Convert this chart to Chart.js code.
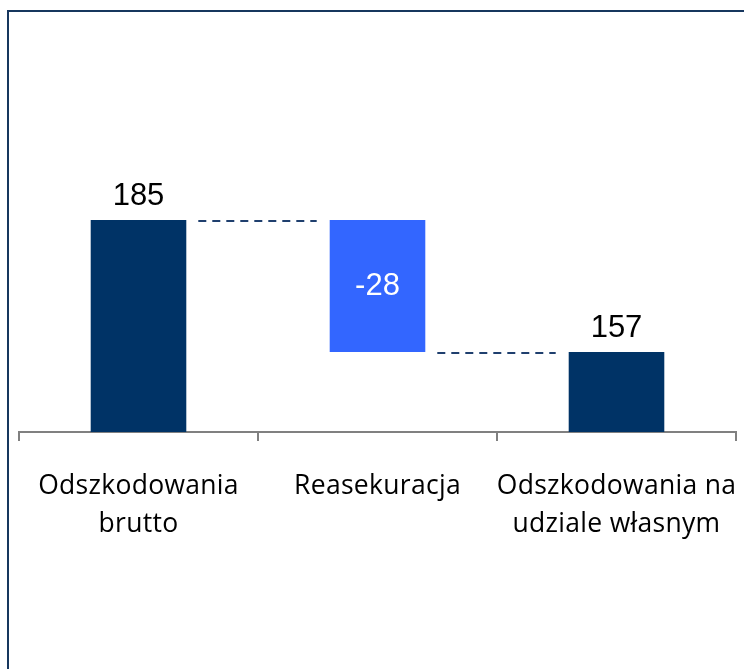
<!DOCTYPE html>
<html lang="pl">
<head>
    <meta charset="UTF-8">
    <title>Odszkodowania</title>
    <script src="https://cdn.jsdelivr.net/npm/chart.js"></script>
    <style>
        body { margin: 0; background: #fff; overflow: hidden; }
        canvas { display: block; }
    </style>
</head>
<body>
<canvas id="chart" width="744" height="669"></canvas>
<script>
// dane
const categories = [['Odszkodowania', 'brutto'], 'Reasekuracja', ['Odszkodowania na', 'udziale własnym']];
const values = [185, -28, 157];
const kinds = ['total', 'delta', 'total'];
const axisMin = 140;
const axisMax = 230;

// zakresy słupków (waterfall)
let running = 0;
const ranges = values.map((v, i) => {
    if (kinds[i] === 'total') { running = v; return [axisMin, v]; }
    const from = running;
    running += v;
    return [Math.min(from, running), Math.max(from, running)];
});
const colors = kinds.map(k => k === 'total' ? '#003366' : '#3366ff');

// ramka + lekko rozstrzelone litery etykiet osi
const frame = {
    id: 'frame',
    beforeDraw(chart) {
        const ctx = chart.ctx;
        ctx.save();
        ctx.strokeStyle = '#17375e';
        ctx.lineWidth = 2;
        ctx.beginPath();
        ctx.moveTo(8, chart.height);
        ctx.lineTo(8, 11);
        ctx.lineTo(chart.width, 11);
        ctx.stroke();
        ctx.restore();
        ctx.letterSpacing = '0.3px';
    }
};

// etykiety wartości i linie łączące
const waterfallExtras = {
    id: 'waterfallExtras',
    afterDatasetsDraw(chart) {
        const ctx = chart.ctx;
        const bars = chart.getDatasetMeta(0).data;
        const y = chart.scales.y;
        ctx.save();
        ctx.letterSpacing = '0px';
        // linie przerywane
        ctx.strokeStyle = '#1f3f6e';
        ctx.lineWidth = 2;
        ctx.setLineDash([8, 6]);
        let level = 0;
        values.forEach((v, i) => {
            level = kinds[i] === 'total' ? v : level + v;
            if (i < bars.length - 1) {
                const a = bars[i], b = bars[i + 1];
                const py = Math.round(y.getPixelForValue(level)) + 1;
                ctx.beginPath();
                ctx.moveTo(a.x + a.width / 2 + 12, py);
                ctx.lineTo(b.x - b.width / 2 - 13, py);
                ctx.stroke();
            }
        });
        ctx.setLineDash([]);
        // wartości
        ctx.font = '31px "Liberation Sans", Arial, sans-serif';
        ctx.textAlign = 'center';
        bars.forEach((bar, i) => {
            if (kinds[i] === 'total') {
                ctx.fillStyle = '#000';
                ctx.textBaseline = 'alphabetic';
                ctx.fillText(String(values[i]), bar.x, bar.y - 15);
            } else {
                ctx.fillStyle = '#fff';
                ctx.textBaseline = 'middle';
                ctx.fillText(String(values[i]), bar.x, (bar.y + bar.base) / 2);
            }
        });
        ctx.restore();
    }
};

new Chart(document.getElementById('chart'), {
    type: 'bar',
    data: {
        labels: categories,
        datasets: [{
            data: ranges,
            backgroundColor: colors,
            borderWidth: 0,
            barPercentage: 0.4,
            categoryPercentage: 1.0
        }]
    },
    options: {
        responsive: false,
        animation: false,
        layout: { padding: { left: 19, right: 8, top: 8, bottom: 0 } },
        plugins: { legend: { display: false }, tooltip: { enabled: false } },
        scales: {
            y: { display: false, min: axisMin, max: axisMax },
            x: {
                border: { color: '#808080', width: 2 },
                grid: { drawOnChartArea: false, drawTicks: true, tickLength: 9, color: '#808080', lineWidth: 2 },
                ticks: {
                    color: '#000',
                    padding: 27,
                    maxRotation: 0,
                    autoSkip: false,
                    font: { family: '"Open Sans", sans-serif', size: 26.5, lineHeight: 1.42 }
                },
                afterFit(scale) {
                    scale.height = 669 - 432;
                    scale.paddingLeft = 0;
                    scale.paddingRight = 0;
                }
            }
        }
    },
    plugins: [frame, waterfallExtras]
});
</script>
</body>
</html>
